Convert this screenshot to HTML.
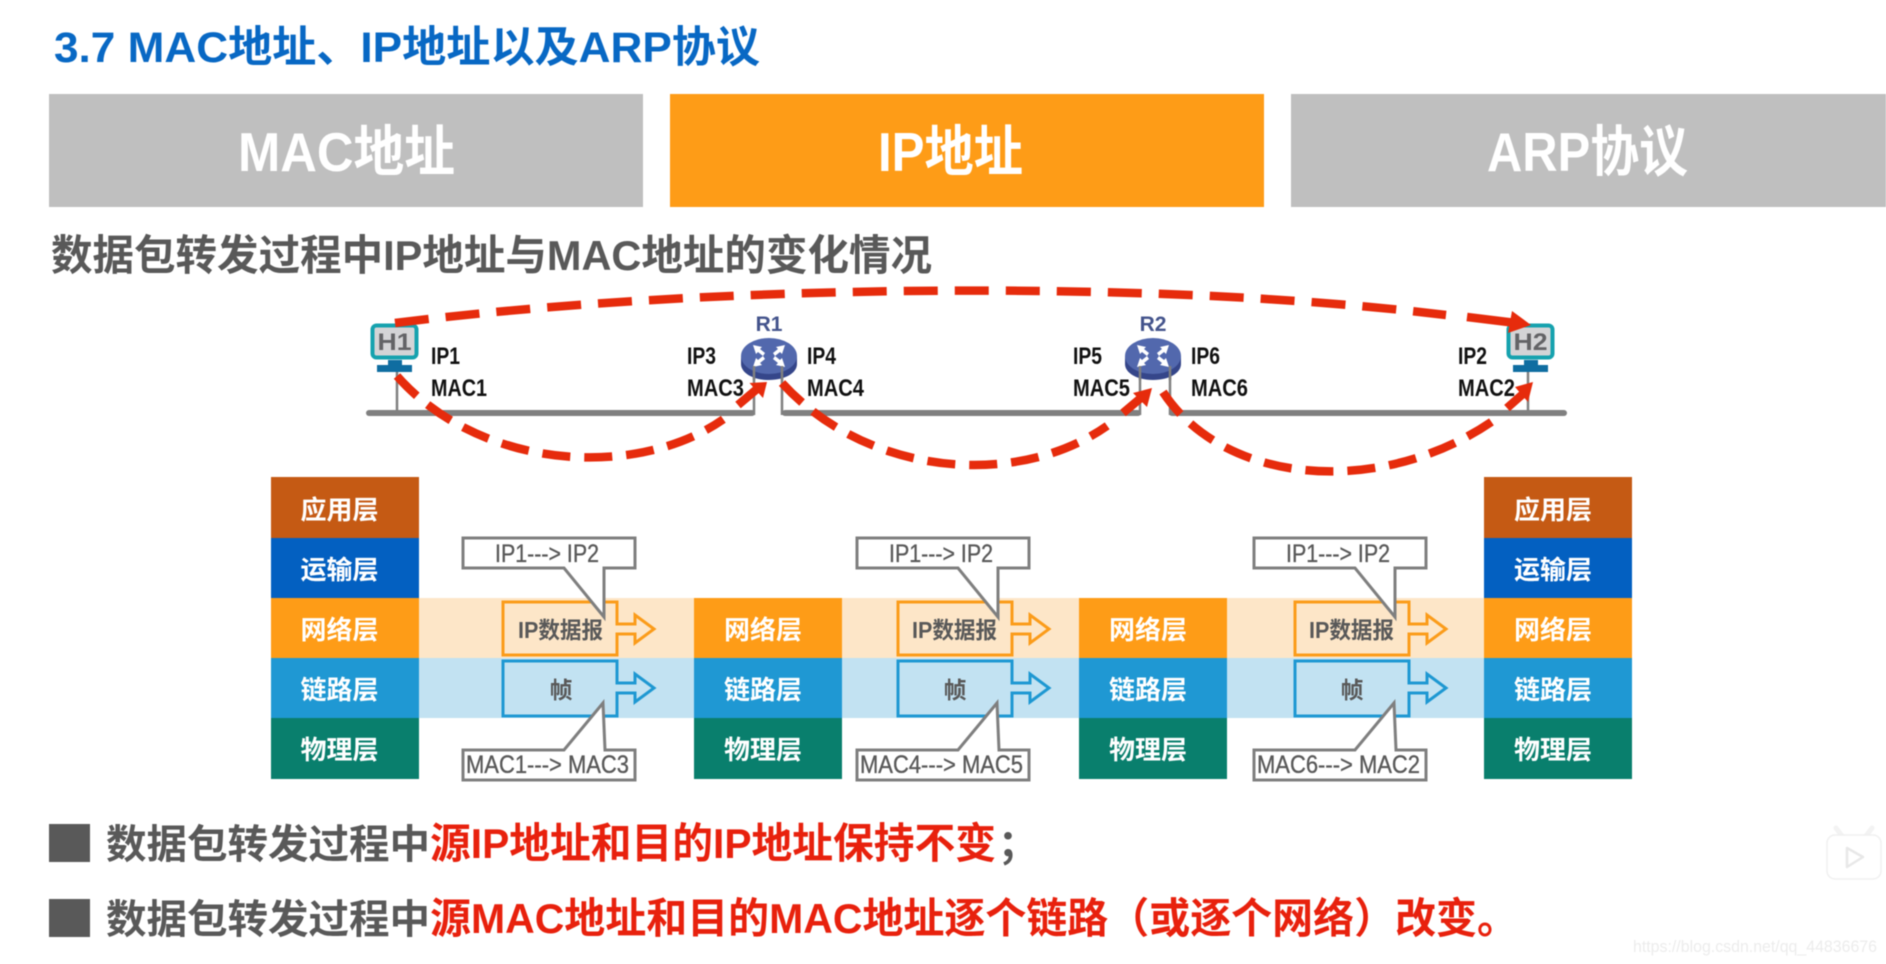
<!DOCTYPE html>
<html lang="zh"><head><meta charset="utf-8"><title>MAC地址、IP地址以及ARP协议</title>
<style>
html,body{margin:0;padding:0;background:#fff;width:1886px;height:964px;overflow:hidden}
svg{display:block;filter:blur(.55px)}
text{font-family:"Liberation Sans","Noto Sans CJK SC",sans-serif}
.h{font-weight:700}
.t{fill:#fff;font-weight:700;font-size:55px}
.l{fill:#fff;font-weight:700;font-size:26px}
.n{fill:#111;font-size:24px;font-weight:700}
.c{fill:#595959;font-size:25px;stroke:#595959;stroke-width:.35}
.b{fill:#595959;font-weight:700;font-size:23px}
.s{fill:#595959;font-weight:700;font-size:40px}
.s2{fill:#595959;font-weight:700;font-size:42px}
.r{fill:#e8210d;font-weight:700;font-size:42px}
.call{fill:#fff;stroke:#7f7f7f;stroke-width:3}
.arc{fill:none;stroke:#e62b0c;stroke-width:8.5}
.bus{fill:none;stroke:#808080;stroke-width:6;stroke-linecap:round}
.vl{stroke:#808080;stroke-width:2.5;fill:none}
.ib{fill:#fde6c8;stroke:#fb9c1a;stroke-width:3}
.fb{fill:#c2e2f2;stroke:#1e98d2;stroke-width:3}
</style></head><body>
<svg width="1886" height="964" viewBox="0 0 1886 964" xmlns="http://www.w3.org/2000/svg">
<rect width="1886" height="964" fill="#fff"/>
<!-- title -->
<text x="54" y="62" class="h" font-size="43" fill="#0868c4" textLength="706" lengthAdjust="spacingAndGlyphs">3.7 MAC地址、IP地址以及ARP协议</text>
<!-- tabs -->
<rect x="49" y="94" width="594" height="113" fill="#bfbfbf"/>
<rect x="670" y="94" width="594" height="113" fill="#fe9c17"/>
<rect x="1291" y="94" width="595" height="113" fill="#bfbfbf"/>
<text x="238" y="171" class="t" textLength="217" lengthAdjust="spacingAndGlyphs">MAC地址</text>
<text x="878" y="171" class="t" textLength="145" lengthAdjust="spacingAndGlyphs">IP地址</text>
<text x="1487" y="171" class="t" textLength="201" lengthAdjust="spacingAndGlyphs">ARP协议</text>
<text x="51" y="270" class="s2" textLength="881" lengthAdjust="spacingAndGlyphs">数据包转发过程中IP地址与MAC地址的变化情况</text>

<!-- network lines -->
<path class="bus" d="M369 413H752"/><path class="bus" d="M785 413H1138"/><path class="bus" d="M1172 413H1564"/>
<path class="vl" d="M397 372V413M754 372V415M782 372V415M1140 372V415M1170 372V415M1528 372V413"/>

<!-- H1 -->
<rect x="372.500" y="325.500" width="44" height="32" rx="4" fill="#d4d4d6" stroke="#16a2ae" stroke-width="4"/>
<text x="394.500" y="350" text-anchor="middle" font-size="24" font-weight="700" fill="#636366" textLength="34" lengthAdjust="spacingAndGlyphs">H1</text>
<rect x="388" y="360" width="14" height="6" fill="#0f6da1"/><rect x="377" y="365" width="35" height="7" fill="#0f6da1"/>
<!-- H2 -->
<rect x="1508.500" y="325.500" width="44" height="32" rx="4" fill="#d4d4d6" stroke="#16a2ae" stroke-width="4"/>
<text x="1530.500" y="350" text-anchor="middle" font-size="24" font-weight="700" fill="#636366" textLength="34" lengthAdjust="spacingAndGlyphs">H2</text>
<rect x="1524" y="360" width="14" height="6" fill="#0f6da1"/><rect x="1513" y="365" width="35" height="7" fill="#0f6da1"/>
<!-- R1 -->
<g>
<path d="M741 356V364C741 373 729 380 713 380S685 373 685 364V356Z" transform="translate(56 0)" fill="#35468a"/>
<ellipse cx="769" cy="356" rx="28" ry="18" fill="#5268ad"/>
<path d="M753 345l9 2-2 2 5 4-2 3-5-4-2 2zM785 345l-9 2 2 2-5 4 2 3 5-4 2 2zM753 367l9-2-2-2 5-4-2-3-5 4-2-2zM785 367l-9-2 2-2-5-4 2-3 5 4 2-2z" fill="#fff"/>
</g>
<text x="769" y="331" text-anchor="middle" font-size="21" font-weight="700" fill="#44548c">R1</text>
<!-- R2 -->
<g transform="translate(384 0)">
<path d="M741 356V364C741 373 729 380 713 380S685 373 685 364V356Z" transform="translate(56 0)" fill="#35468a"/>
<ellipse cx="769" cy="356" rx="28" ry="18" fill="#5268ad"/>
<path d="M753 345l9 2-2 2 5 4-2 3-5-4-2 2zM785 345l-9 2 2 2-5 4 2 3 5-4 2 2zM753 367l9-2-2-2 5-4-2-3-5 4-2-2zM785 367l-9-2 2-2-5-4 2-3 5 4 2-2z" fill="#fff"/>
</g>
<text x="1153" y="331" text-anchor="middle" font-size="21" font-weight="700" fill="#44548c">R2</text>
<path class="vl" d="M754 366V380M782 366V380M1140 366V380M1170 366V380" stroke-width="2"/>

<!-- address labels -->
<text class="n" x="431" y="364" textLength="29" lengthAdjust="spacingAndGlyphs">IP1</text>
<text class="n" x="431" y="396" textLength="56" lengthAdjust="spacingAndGlyphs">MAC1</text>
<text class="n" x="687" y="364" textLength="29" lengthAdjust="spacingAndGlyphs">IP3</text>
<text class="n" x="687" y="396" textLength="57" lengthAdjust="spacingAndGlyphs">MAC3</text>
<text class="n" x="807" y="364" textLength="29" lengthAdjust="spacingAndGlyphs">IP4</text>
<text class="n" x="807" y="396" textLength="57" lengthAdjust="spacingAndGlyphs">MAC4</text>
<text class="n" x="1073" y="364" textLength="29" lengthAdjust="spacingAndGlyphs">IP5</text>
<text class="n" x="1073" y="396" textLength="57" lengthAdjust="spacingAndGlyphs">MAC5</text>
<text class="n" x="1191" y="364" textLength="29" lengthAdjust="spacingAndGlyphs">IP6</text>
<text class="n" x="1191" y="396" textLength="57" lengthAdjust="spacingAndGlyphs">MAC6</text>
<text class="n" x="1458" y="364" textLength="29" lengthAdjust="spacingAndGlyphs">IP2</text>
<text class="n" x="1458" y="396" textLength="57" lengthAdjust="spacingAndGlyphs">MAC2</text>

<!-- red arcs -->
<path class="arc" stroke-dasharray="34 17" d="M395 323C697 285 1142 278 1446 315"/>
<path class="arc" d="M1467 317L1516 323"/>
<path d="M1531 325L1512 311 1508 333Z" fill="#e62b0c"/>
<path class="arc" stroke-dasharray="28 14" d="M397 376C478.800 469.300 635.700 480.500 723.300 419.300"/>
<path class="arc" d="M738 405L757 389"/>
<path d="M767 382L749.500 383 763 398Z" fill="#e62b0c"/>
<path class="arc" stroke-dasharray="28 14" d="M782 383C868.200 477.200 1018 488.500 1107.200 425.800"/>
<path class="arc" d="M1123 413L1142 397"/>
<path d="M1152 388L1133 393 1147 407Z" fill="#e62b0c"/>
<path class="arc" stroke-dasharray="28 14" d="M1163 392C1225 487 1385 498 1497 418"/>
<path class="arc" d="M1507 408L1524 393"/>
<path d="M1533 382L1515 387 1528 402Z" fill="#e62b0c"/>

<!-- bands -->
<rect x="419" y="598" width="1065" height="60" fill="#fde6c8"/>
<rect x="419" y="658" width="1065" height="60" fill="#c2e2f2"/>

<!-- layer columns -->
<rect x="271" y="477" width="148" height="61" fill="#c55a14"/>
<rect x="271" y="538" width="148" height="60" fill="#0360c1"/>
<rect x="271" y="598" width="148" height="60" fill="#fe9c17"/>
<rect x="271" y="658" width="148" height="60" fill="#1f98d3"/>
<rect x="271" y="718" width="148" height="61" fill="#097f6d"/>
<rect x="694" y="598" width="148" height="60" fill="#fe9c17"/>
<rect x="694" y="658" width="148" height="60" fill="#1f98d3"/>
<rect x="694" y="718" width="148" height="61" fill="#097f6d"/>
<rect x="1079" y="598" width="148" height="60" fill="#fe9c17"/>
<rect x="1079" y="658" width="148" height="60" fill="#1f98d3"/>
<rect x="1079" y="718" width="148" height="61" fill="#097f6d"/>
<rect x="1484" y="477" width="148" height="61" fill="#c55a14"/>
<rect x="1484" y="538" width="148" height="60" fill="#0360c1"/>
<rect x="1484" y="598" width="148" height="60" fill="#fe9c17"/>
<rect x="1484" y="658" width="148" height="60" fill="#1f98d3"/>
<rect x="1484" y="718" width="148" height="61" fill="#097f6d"/>
<text class="l" x="300.500" y="519">应用层</text><text class="l" x="300.500" y="579">运输层</text><text class="l" x="300.500" y="639">网络层</text><text class="l" x="300.500" y="699">链路层</text><text class="l" x="300.500" y="759">物理层</text>
<text class="l" x="724" y="639">网络层</text><text class="l" x="724" y="699">链路层</text><text class="l" x="724" y="759">物理层</text>
<text class="l" x="1109" y="639">网络层</text><text class="l" x="1109" y="699">链路层</text><text class="l" x="1109" y="759">物理层</text>
<text class="l" x="1514" y="519">应用层</text><text class="l" x="1514" y="579">运输层</text><text class="l" x="1514" y="639">网络层</text><text class="l" x="1514" y="699">链路层</text><text class="l" x="1514" y="759">物理层</text>

<!-- group 1 -->
<path class="ib" d="M503 602H617V624H635V615L654 629 635 643V634H617V655H503Z"/>
<path class="fb" d="M503 661H617V683H635V674L654 688 635 702V693H617V716H503Z"/>
<path class="call" d="M463 538H635V568H604V617L564 568H463Z"/>
<path class="call" d="M463 750H564L603 703 605 750H635V780H463Z"/>
<text class="b" x="518" y="638" textLength="85" lengthAdjust="spacingAndGlyphs">IP数据报</text>
<text class="b" x="561" y="698" text-anchor="middle">帧</text>
<text class="c" x="495" y="562" textLength="104" lengthAdjust="spacingAndGlyphs">IP1---&gt; IP2</text>
<text class="c" x="466" y="773" textLength="163" lengthAdjust="spacingAndGlyphs">MAC1---&gt; MAC3</text>

<!-- group 2 -->
<g transform="translate(395 0)">
<path class="ib" d="M503 602H617V624H635V615L654 629 635 643V634H617V655H503Z"/>
<path class="fb" d="M503 661H617V683H635V674L654 688 635 702V693H617V716H503Z"/>
</g>
<g transform="translate(394 0)">
<path class="call" d="M463 538H635V568H604V617L564 568H463Z"/>
<path class="call" d="M463 750H564L603 703 605 750H635V780H463Z"/>
</g>
<text class="b" x="912" y="638" textLength="85" lengthAdjust="spacingAndGlyphs">IP数据报</text>
<text class="b" x="955" y="698" text-anchor="middle">帧</text>
<text class="c" x="889" y="562" textLength="104" lengthAdjust="spacingAndGlyphs">IP1---&gt; IP2</text>
<text class="c" x="860" y="773" textLength="163" lengthAdjust="spacingAndGlyphs">MAC4---&gt; MAC5</text>

<!-- group 3 -->
<g transform="translate(792 0)">
<path class="ib" d="M503 602H617V624H635V615L654 629 635 643V634H617V655H503Z"/>
<path class="fb" d="M503 661H617V683H635V674L654 688 635 702V693H617V716H503Z"/>
</g>
<g transform="translate(791 0)">
<path class="call" d="M463 538H635V568H604V617L564 568H463Z"/>
<path class="call" d="M463 750H564L603 703 605 750H635V780H463Z"/>
</g>
<text class="b" x="1309" y="638" textLength="85" lengthAdjust="spacingAndGlyphs">IP数据报</text>
<text class="b" x="1352" y="698" text-anchor="middle">帧</text>
<text class="c" x="1286" y="562" textLength="104" lengthAdjust="spacingAndGlyphs">IP1---&gt; IP2</text>
<text class="c" x="1257" y="773" textLength="163" lengthAdjust="spacingAndGlyphs">MAC6---&gt; MAC2</text>

<!-- bullets -->
<rect x="49" y="824" width="41" height="38" fill="#595959"/>
<rect x="49" y="899" width="41" height="38" fill="#595959"/>
<text class="s" x="106" y="858" textLength="324" lengthAdjust="spacingAndGlyphs">数据包转发过程中</text>
<text class="r" x="430" y="858" textLength="566" lengthAdjust="spacingAndGlyphs">源IP地址和目的IP地址保持不变</text>
<text class="s" x="998" y="858">；</text>
<text class="s" x="106" y="933" textLength="324" lengthAdjust="spacingAndGlyphs">数据包转发过程中</text>
<text class="r" x="430" y="933" textLength="1088" lengthAdjust="spacingAndGlyphs">源MAC地址和目的MAC地址逐个链路（或逐个网络）改变。</text>

<!-- watermark and play badge -->
<g>
<path d="M1842 836L1836 828M1866 836L1872 828" stroke="#f3f3f3" stroke-width="5" stroke-linecap="round"/>
<rect x="1827" y="835" width="54" height="44" rx="8" fill="#fff" stroke="#f0f0f0" stroke-width="1.500"/>
<path d="M1847 848L1863 857 1847 867Z" fill="#fff" stroke="#e8e8e8" stroke-width="2.500" stroke-linejoin="round"/>
</g>
<text x="1633" y="952" font-size="16.500" fill="#ececec" textLength="244" lengthAdjust="spacingAndGlyphs">https://blog.csdn.net/qq_44836676</text>
</svg>
</body></html>
